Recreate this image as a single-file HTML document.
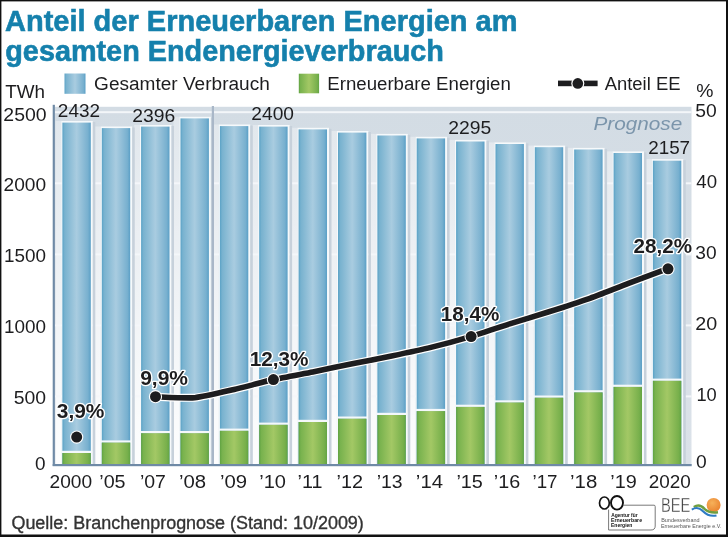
<!DOCTYPE html>
<html><head><meta charset="utf-8"><style>
html,body{margin:0;padding:0;background:#fff;}
svg{display:block;will-change:transform;}
text{font-family:"Liberation Sans", sans-serif;}
</style></head><body>
<svg width="728" height="537" viewBox="0 0 728 537">
<defs>
<linearGradient id="bg" x1="0" y1="0" x2="0" y2="1">
<stop offset="0" stop-color="#d3dce4"/>
<stop offset="1" stop-color="#dbe2e9"/>
</linearGradient>
<linearGradient id="glow" gradientUnits="userSpaceOnUse" x1="0" y1="107" x2="0" y2="465">
<stop offset="0" stop-color="#fff" stop-opacity="0.3"/>
<stop offset="0.5" stop-color="#fff" stop-opacity="0.6"/>
<stop offset="1" stop-color="#fff" stop-opacity="0.95"/>
</linearGradient>
<linearGradient id="gb" x1="0" y1="0" x2="1" y2="0">
<stop offset="0" stop-color="#5aa2c6"/>
<stop offset="0.08" stop-color="#78b2cf"/>
<stop offset="0.5" stop-color="#a9cce0"/>
<stop offset="0.9" stop-color="#78b0cf"/>
<stop offset="1" stop-color="#5a9fc6"/>
</linearGradient>
<linearGradient id="gg" x1="0" y1="0" x2="1" y2="0">
<stop offset="0" stop-color="#5fa242"/>
<stop offset="0.08" stop-color="#78b24e"/>
<stop offset="0.5" stop-color="#a3c865"/>
<stop offset="0.9" stop-color="#78b04c"/>
<stop offset="1" stop-color="#62a444"/>
</linearGradient>
<radialGradient id="sun" cx="0.4" cy="0.35" r="0.7">
<stop offset="0" stop-color="#f6b15a"/>
<stop offset="1" stop-color="#e9822e"/>
</radialGradient>
</defs>
<rect x="0" y="0" width="728" height="537" fill="#fff"/>

<rect x="55" y="106.8" width="636.5" height="358.2" fill="url(#bg)"/>
<rect x="55.5" y="121.0" width="5.8" height="344.0" fill="url(#glow)"/>
<rect x="94.9" y="126.5" width="5.8" height="338.5" fill="url(#glow)"/>
<rect x="134.2" y="125.0" width="5.8" height="340.0" fill="url(#glow)"/>
<rect x="173.6" y="116.8" width="5.8" height="348.2" fill="url(#glow)"/>
<rect x="213.0" y="124.5" width="5.8" height="340.5" fill="url(#glow)"/>
<rect x="252.3" y="125.0" width="5.8" height="340.0" fill="url(#glow)"/>
<rect x="291.7" y="127.8" width="5.8" height="337.2" fill="url(#glow)"/>
<rect x="331.1" y="131.0" width="5.8" height="334.0" fill="url(#glow)"/>
<rect x="370.5" y="133.9" width="5.8" height="331.1" fill="url(#glow)"/>
<rect x="409.8" y="136.8" width="5.8" height="328.2" fill="url(#glow)"/>
<rect x="449.2" y="139.9" width="5.8" height="325.1" fill="url(#glow)"/>
<rect x="488.6" y="142.4" width="5.8" height="322.6" fill="url(#glow)"/>
<rect x="527.9" y="145.6" width="5.8" height="319.4" fill="url(#glow)"/>
<rect x="567.3" y="147.9" width="5.8" height="317.1" fill="url(#glow)"/>
<rect x="606.7" y="151.4" width="5.8" height="313.6" fill="url(#glow)"/>
<rect x="646.0" y="159.1" width="5.8" height="305.9" fill="url(#glow)"/>
<rect x="55" y="395.4" width="636.5" height="2" fill="#f4f7fa" opacity="0.95"/>
<rect x="55" y="324.4" width="636.5" height="2" fill="#f4f7fa" opacity="0.95"/>
<rect x="55" y="253.4" width="636.5" height="2" fill="#f4f7fa" opacity="0.95"/>
<rect x="55" y="182.3" width="636.5" height="2" fill="#f4f7fa" opacity="0.95"/>
<rect x="55" y="111.2" width="636.5" height="2" fill="#f4f7fa" opacity="0.95"/>
<rect x="61.3" y="121.0" width="31.5" height="344.0" fill="#f6f9fb"/>
<rect x="92.8" y="122.0" width="2.5" height="343.0" fill="#c7d1db"/>
<rect x="62.4" y="122.6" width="28.4" height="342.4" fill="url(#gb)"/>
<rect x="61.1" y="450.8" width="31.0" height="2.2" fill="#f4f8fb"/>
<rect x="62.4" y="453.0" width="28.4" height="12.0" fill="url(#gg)"/>
<rect x="100.7" y="126.5" width="31.5" height="338.5" fill="#f6f9fb"/>
<rect x="132.2" y="127.5" width="2.5" height="337.5" fill="#c7d1db"/>
<rect x="101.8" y="128.1" width="28.4" height="336.9" fill="url(#gb)"/>
<rect x="100.5" y="440.4" width="31.0" height="2.2" fill="#f4f8fb"/>
<rect x="101.8" y="442.6" width="28.4" height="22.4" fill="url(#gg)"/>
<rect x="140.0" y="125.0" width="31.5" height="340.0" fill="#f6f9fb"/>
<rect x="171.5" y="126.0" width="2.5" height="339.0" fill="#c7d1db"/>
<rect x="141.1" y="126.6" width="28.4" height="338.4" fill="url(#gb)"/>
<rect x="139.8" y="431.0" width="31.0" height="2.2" fill="#f4f8fb"/>
<rect x="141.1" y="433.2" width="28.4" height="31.8" fill="url(#gg)"/>
<rect x="179.4" y="116.8" width="31.5" height="348.2" fill="#f6f9fb"/>
<rect x="210.9" y="117.8" width="2.5" height="347.2" fill="#c7d1db"/>
<rect x="180.5" y="118.4" width="28.4" height="346.6" fill="url(#gb)"/>
<rect x="179.2" y="431.0" width="31.0" height="2.2" fill="#f4f8fb"/>
<rect x="180.5" y="433.2" width="28.4" height="31.8" fill="url(#gg)"/>
<rect x="218.8" y="124.5" width="31.5" height="340.5" fill="#f6f9fb"/>
<rect x="250.3" y="125.5" width="2.5" height="339.5" fill="#c7d1db"/>
<rect x="219.9" y="126.1" width="28.4" height="338.9" fill="url(#gb)"/>
<rect x="218.6" y="428.6" width="31.0" height="2.2" fill="#f4f8fb"/>
<rect x="219.9" y="430.8" width="28.4" height="34.2" fill="url(#gg)"/>
<rect x="258.1" y="125.0" width="31.5" height="340.0" fill="#f6f9fb"/>
<rect x="289.6" y="126.0" width="2.5" height="339.0" fill="#c7d1db"/>
<rect x="259.2" y="126.6" width="28.4" height="338.4" fill="url(#gb)"/>
<rect x="257.9" y="422.6" width="31.0" height="2.2" fill="#f4f8fb"/>
<rect x="259.2" y="424.8" width="28.4" height="40.2" fill="url(#gg)"/>
<rect x="297.5" y="127.8" width="31.5" height="337.2" fill="#f6f9fb"/>
<rect x="329.0" y="128.8" width="2.5" height="336.2" fill="#c7d1db"/>
<rect x="298.6" y="129.4" width="28.4" height="335.6" fill="url(#gb)"/>
<rect x="297.3" y="419.8" width="31.0" height="2.2" fill="#f4f8fb"/>
<rect x="298.6" y="422.0" width="28.4" height="43.0" fill="url(#gg)"/>
<rect x="336.9" y="131.0" width="31.5" height="334.0" fill="#f6f9fb"/>
<rect x="368.4" y="132.0" width="2.5" height="333.0" fill="#c7d1db"/>
<rect x="338.0" y="132.6" width="28.4" height="332.4" fill="url(#gb)"/>
<rect x="336.7" y="416.5" width="31.0" height="2.2" fill="#f4f8fb"/>
<rect x="338.0" y="418.7" width="28.4" height="46.3" fill="url(#gg)"/>
<rect x="376.3" y="133.9" width="31.5" height="331.1" fill="#f6f9fb"/>
<rect x="407.8" y="134.9" width="2.5" height="330.1" fill="#c7d1db"/>
<rect x="377.4" y="135.5" width="28.4" height="329.5" fill="url(#gb)"/>
<rect x="376.1" y="412.8" width="31.0" height="2.2" fill="#f4f8fb"/>
<rect x="377.4" y="415.0" width="28.4" height="50.0" fill="url(#gg)"/>
<rect x="415.6" y="136.8" width="31.5" height="328.2" fill="#f6f9fb"/>
<rect x="447.1" y="137.8" width="2.5" height="327.2" fill="#c7d1db"/>
<rect x="416.7" y="138.4" width="28.4" height="326.6" fill="url(#gb)"/>
<rect x="415.4" y="408.9" width="31.0" height="2.2" fill="#f4f8fb"/>
<rect x="416.7" y="411.1" width="28.4" height="53.9" fill="url(#gg)"/>
<rect x="455.0" y="139.9" width="31.5" height="325.1" fill="#f6f9fb"/>
<rect x="486.5" y="140.9" width="2.5" height="324.1" fill="#c7d1db"/>
<rect x="456.1" y="141.5" width="28.4" height="323.5" fill="url(#gb)"/>
<rect x="454.8" y="404.7" width="31.0" height="2.2" fill="#f4f8fb"/>
<rect x="456.1" y="406.9" width="28.4" height="58.1" fill="url(#gg)"/>
<rect x="494.4" y="142.4" width="31.5" height="322.6" fill="#f6f9fb"/>
<rect x="525.9" y="143.4" width="2.5" height="321.6" fill="#c7d1db"/>
<rect x="495.5" y="144.0" width="28.4" height="321.0" fill="url(#gb)"/>
<rect x="494.2" y="400.3" width="31.0" height="2.2" fill="#f4f8fb"/>
<rect x="495.5" y="402.5" width="28.4" height="62.5" fill="url(#gg)"/>
<rect x="533.7" y="145.6" width="31.5" height="319.4" fill="#f6f9fb"/>
<rect x="565.2" y="146.6" width="2.5" height="318.4" fill="#c7d1db"/>
<rect x="534.8" y="147.2" width="28.4" height="317.8" fill="url(#gb)"/>
<rect x="533.5" y="395.5" width="31.0" height="2.2" fill="#f4f8fb"/>
<rect x="534.8" y="397.7" width="28.4" height="67.3" fill="url(#gg)"/>
<rect x="573.1" y="147.9" width="31.5" height="317.1" fill="#f6f9fb"/>
<rect x="604.6" y="148.9" width="2.5" height="316.1" fill="#c7d1db"/>
<rect x="574.2" y="149.5" width="28.4" height="315.5" fill="url(#gb)"/>
<rect x="572.9" y="390.2" width="31.0" height="2.2" fill="#f4f8fb"/>
<rect x="574.2" y="392.4" width="28.4" height="72.6" fill="url(#gg)"/>
<rect x="612.5" y="151.4" width="31.5" height="313.6" fill="#f6f9fb"/>
<rect x="644.0" y="152.4" width="2.5" height="312.6" fill="#c7d1db"/>
<rect x="613.6" y="153.0" width="28.4" height="312.0" fill="url(#gb)"/>
<rect x="612.3" y="384.7" width="31.0" height="2.2" fill="#f4f8fb"/>
<rect x="613.6" y="386.9" width="28.4" height="78.1" fill="url(#gg)"/>
<rect x="651.8" y="159.1" width="31.5" height="305.9" fill="#f6f9fb"/>
<rect x="683.3" y="160.1" width="2.5" height="304.9" fill="#c7d1db"/>
<rect x="652.9" y="160.7" width="28.4" height="304.3" fill="url(#gb)"/>
<rect x="651.6" y="378.6" width="31.0" height="2.2" fill="#f4f8fb"/>
<rect x="652.9" y="380.8" width="28.4" height="84.2" fill="url(#gg)"/>
<rect x="211.8" y="106.0" width="2.2" height="359" fill="#a9b7c8"/>
<rect x="52.7" y="104.8" width="2.2" height="361.2" fill="#6f8aa6"/>
<rect x="52.7" y="464" width="639" height="2.2" fill="#6f8aa6"/>
<path d="M155.30,396.70 C159.24,396.80 186.82,398.42 194.70,397.70 C202.58,396.98 226.23,391.31 234.10,389.50 C241.97,387.69 265.53,381.36 273.40,379.60 C281.27,377.84 304.92,373.48 312.80,371.90 C320.68,370.32 344.32,365.39 352.20,363.80 C360.08,362.21 383.73,357.64 391.60,356.00 C399.47,354.36 423.00,349.34 430.90,347.40 C438.80,345.46 462.72,338.95 470.60,336.60 C478.48,334.25 501.86,326.38 509.70,323.90 C517.54,321.42 541.13,314.31 549.00,311.80 C556.87,309.29 580.52,301.61 588.40,298.80 C596.28,295.99 619.86,286.71 627.80,283.70 C635.74,280.69 663.80,270.20 667.80,268.70" fill="none" stroke="#fff" stroke-width="8" stroke-linejoin="round"/>
<path d="M155.30,396.70 C159.24,396.80 186.82,398.42 194.70,397.70 C202.58,396.98 226.23,391.31 234.10,389.50 C241.97,387.69 265.53,381.36 273.40,379.60 C281.27,377.84 304.92,373.48 312.80,371.90 C320.68,370.32 344.32,365.39 352.20,363.80 C360.08,362.21 383.73,357.64 391.60,356.00 C399.47,354.36 423.00,349.34 430.90,347.40 C438.80,345.46 462.72,338.95 470.60,336.60 C478.48,334.25 501.86,326.38 509.70,323.90 C517.54,321.42 541.13,314.31 549.00,311.80 C556.87,309.29 580.52,301.61 588.40,298.80 C596.28,295.99 619.86,286.71 627.80,283.70 C635.74,280.69 663.80,270.20 667.80,268.70" fill="none" stroke="#1d1d1f" stroke-width="5.6" stroke-linejoin="round"/>
<circle cx="76.7" cy="437.1" r="6.6" fill="#fff"/><circle cx="76.7" cy="437.1" r="5.5" fill="#1d1d1f"/>
<circle cx="155.5" cy="396.7" r="6.6" fill="#fff"/><circle cx="155.5" cy="396.7" r="5.5" fill="#1d1d1f"/>
<circle cx="273.4" cy="379.6" r="6.6" fill="#fff"/><circle cx="273.4" cy="379.6" r="5.5" fill="#1d1d1f"/>
<circle cx="471.1" cy="336.6" r="6.6" fill="#fff"/><circle cx="471.1" cy="336.6" r="5.5" fill="#1d1d1f"/>
<circle cx="668" cy="268.8" r="6.6" fill="#fff"/><circle cx="668" cy="268.8" r="5.5" fill="#1d1d1f"/>
<text x="4.98" y="30.90" font-size="29.70" textLength="512.56" lengthAdjust="spacingAndGlyphs" font-weight="bold" stroke="#1580ac" stroke-width="0.6" fill="#1580ac">Anteil der Erneuerbaren Energien am</text>
<text x="5.27" y="60.50" font-size="29.70" textLength="438.62" lengthAdjust="spacingAndGlyphs" font-weight="bold" stroke="#1580ac" stroke-width="0.6" fill="#1580ac">gesamten Endenergieverbrauch</text>
<text x="5.28" y="97.50" font-size="18.80" textLength="39.82" lengthAdjust="spacingAndGlyphs" fill="#1d1d1f">TWh</text>
<text x="3.33" y="120.50" font-size="18.80" textLength="43.23" lengthAdjust="spacingAndGlyphs" fill="#1d1d1f">2500</text>
<text x="3.53" y="191.20" font-size="18.80" textLength="42.54" lengthAdjust="spacingAndGlyphs" fill="#1d1d1f">2000</text>
<text x="4.10" y="262.00" font-size="18.80" textLength="42.00" lengthAdjust="spacingAndGlyphs" fill="#1d1d1f">1500</text>
<text x="4.10" y="332.50" font-size="18.80" textLength="42.00" lengthAdjust="spacingAndGlyphs" fill="#1d1d1f">1000</text>
<text x="13.78" y="404.20" font-size="18.80" textLength="32.35" lengthAdjust="spacingAndGlyphs" fill="#1d1d1f">500</text>
<text x="35.04" y="469.80" font-size="18.80" textLength="10.53" lengthAdjust="spacingAndGlyphs" fill="#1d1d1f">0</text>
<text x="696.17" y="97.30" font-size="18.80" textLength="17.21" lengthAdjust="spacingAndGlyphs" fill="#1d1d1f">%</text>
<text x="695.29" y="117.40" font-size="18.80" textLength="21.47" lengthAdjust="spacingAndGlyphs" fill="#1d1d1f">50</text>
<text x="696.32" y="187.90" font-size="18.80" textLength="20.70" lengthAdjust="spacingAndGlyphs" fill="#1d1d1f">40</text>
<text x="695.34" y="258.60" font-size="18.80" textLength="21.27" lengthAdjust="spacingAndGlyphs" fill="#1d1d1f">30</text>
<text x="695.20" y="330.00" font-size="18.80" textLength="21.91" lengthAdjust="spacingAndGlyphs" fill="#1d1d1f">20</text>
<text x="696.38" y="400.90" font-size="18.80" textLength="20.31" lengthAdjust="spacingAndGlyphs" fill="#1d1d1f">10</text>
<text x="696.14" y="467.90" font-size="18.80" textLength="10.71" lengthAdjust="spacingAndGlyphs" fill="#1d1d1f">0</text>
<text x="94.08" y="90.20" font-size="18.80" textLength="175.69" lengthAdjust="spacingAndGlyphs" fill="#1d1d1f">Gesamter Verbrauch</text>
<text x="327.22" y="90.10" font-size="18.80" textLength="183.60" lengthAdjust="spacingAndGlyphs" fill="#1d1d1f">Erneuerbare Energien</text>
<text x="604.65" y="90.00" font-size="18.80" textLength="75.84" lengthAdjust="spacingAndGlyphs" fill="#1d1d1f">Anteil EE</text>
<text x="57.87" y="117.00" font-size="18.80" textLength="42.21" lengthAdjust="spacingAndGlyphs" fill="#1d1d1f">2432</text>
<text x="132.34" y="121.60" font-size="18.80" textLength="43.00" lengthAdjust="spacingAndGlyphs" fill="#1d1d1f">2396</text>
<text x="251.37" y="120.40" font-size="18.80" textLength="42.58" lengthAdjust="spacingAndGlyphs" fill="#1d1d1f">2400</text>
<text x="448.35" y="134.00" font-size="18.80" textLength="42.98" lengthAdjust="spacingAndGlyphs" fill="#1d1d1f">2295</text>
<text x="648.18" y="154.10" font-size="18.80" textLength="41.93" lengthAdjust="spacingAndGlyphs" fill="#1d1d1f">2157</text>
<text x="593.54" y="129.60" font-size="18.00" textLength="88.72" lengthAdjust="spacingAndGlyphs" font-style="italic" fill="#7b95ab">Prognose</text>
<text x="56.79" y="418.13" font-size="19.80" textLength="47.64" lengthAdjust="spacingAndGlyphs" font-weight="bold" fill="none" stroke="#fff" stroke-width="2.6" stroke-linejoin="round">3,9%</text>
<text x="56.79" y="418.13" font-size="19.80" textLength="47.64" lengthAdjust="spacingAndGlyphs" font-weight="bold" fill="#1d1d1f">3,9%</text>
<text x="140.15" y="385.33" font-size="19.80" textLength="47.87" lengthAdjust="spacingAndGlyphs" font-weight="bold" fill="none" stroke="#fff" stroke-width="2.6" stroke-linejoin="round">9,9%</text>
<text x="140.15" y="385.33" font-size="19.80" textLength="47.87" lengthAdjust="spacingAndGlyphs" font-weight="bold" fill="#1d1d1f">9,9%</text>
<text x="249.69" y="365.68" font-size="19.80" textLength="58.86" lengthAdjust="spacingAndGlyphs" font-weight="bold" fill="none" stroke="#fff" stroke-width="2.6" stroke-linejoin="round">12,3%</text>
<text x="249.69" y="365.68" font-size="19.80" textLength="58.86" lengthAdjust="spacingAndGlyphs" font-weight="bold" fill="#1d1d1f">12,3%</text>
<text x="440.75" y="320.83" font-size="19.80" textLength="58.52" lengthAdjust="spacingAndGlyphs" font-weight="bold" fill="none" stroke="#fff" stroke-width="2.6" stroke-linejoin="round">18,4%</text>
<text x="440.75" y="320.83" font-size="19.80" textLength="58.52" lengthAdjust="spacingAndGlyphs" font-weight="bold" fill="#1d1d1f">18,4%</text>
<text x="633.63" y="252.83" font-size="19.80" textLength="58.47" lengthAdjust="spacingAndGlyphs" font-weight="bold" fill="none" stroke="#fff" stroke-width="2.6" stroke-linejoin="round">28,2%</text>
<text x="633.63" y="252.83" font-size="19.80" textLength="58.47" lengthAdjust="spacingAndGlyphs" font-weight="bold" fill="#1d1d1f">28,2%</text>
<text x="49.50" y="487.80" font-size="18.80" textLength="42.52" lengthAdjust="spacingAndGlyphs" fill="#1d1d1f">2000</text>
<text x="99.26" y="487.80" font-size="18.80" textLength="26.36" lengthAdjust="spacingAndGlyphs" fill="#1d1d1f">’05</text>
<text x="139.93" y="487.80" font-size="18.80" textLength="26.00" lengthAdjust="spacingAndGlyphs" fill="#1d1d1f">’07</text>
<text x="178.90" y="487.80" font-size="18.80" textLength="27.13" lengthAdjust="spacingAndGlyphs" fill="#1d1d1f">’08</text>
<text x="220.04" y="487.80" font-size="18.80" textLength="27.12" lengthAdjust="spacingAndGlyphs" fill="#1d1d1f">’09</text>
<text x="259.22" y="487.80" font-size="18.80" textLength="26.71" lengthAdjust="spacingAndGlyphs" fill="#1d1d1f">’10</text>
<text x="297.60" y="487.80" font-size="18.80" textLength="24.87" lengthAdjust="spacingAndGlyphs" fill="#1d1d1f">’11</text>
<text x="336.61" y="487.80" font-size="18.80" textLength="26.39" lengthAdjust="spacingAndGlyphs" fill="#1d1d1f">’12</text>
<text x="376.67" y="487.80" font-size="18.80" textLength="25.90" lengthAdjust="spacingAndGlyphs" fill="#1d1d1f">’13</text>
<text x="415.88" y="487.80" font-size="18.80" textLength="27.14" lengthAdjust="spacingAndGlyphs" fill="#1d1d1f">’14</text>
<text x="456.41" y="487.80" font-size="18.80" textLength="26.46" lengthAdjust="spacingAndGlyphs" fill="#1d1d1f">’15</text>
<text x="493.84" y="487.80" font-size="18.80" textLength="26.36" lengthAdjust="spacingAndGlyphs" fill="#1d1d1f">’16</text>
<text x="532.49" y="487.80" font-size="18.80" textLength="25.08" lengthAdjust="spacingAndGlyphs" fill="#1d1d1f">’17</text>
<text x="570.02" y="487.80" font-size="18.80" textLength="27.21" lengthAdjust="spacingAndGlyphs" fill="#1d1d1f">’18</text>
<text x="610.35" y="487.80" font-size="18.80" textLength="26.48" lengthAdjust="spacingAndGlyphs" fill="#1d1d1f">’19</text>
<text x="648.77" y="487.80" font-size="18.80" textLength="42.06" lengthAdjust="spacingAndGlyphs" fill="#1d1d1f">2020</text>
<text x="11.41" y="528.60" font-size="18.30" textLength="352.44" lengthAdjust="spacingAndGlyphs" stroke="#333333" stroke-width="0.35" fill="#333333">Quelle: Branchenprognose (Stand: 10/2009)</text>
<text x="660.90" y="512.30" font-size="19.50" textLength="29.45" lengthAdjust="spacingAndGlyphs" stroke="#fff" stroke-width="0.4" fill="#3a3a3a">BEE</text>
<text x="661.17" y="521.90" font-size="5.80" textLength="38.40" lengthAdjust="spacingAndGlyphs" fill="#555555">Bundesverband</text>
<text x="660.90" y="527.83" font-size="5.80" textLength="60.37" lengthAdjust="spacingAndGlyphs" fill="#555555">Erneuerbare Energie e.V.</text>
<text x="611.14" y="516.50" font-size="5.00" textLength="26.47" lengthAdjust="spacingAndGlyphs" font-weight="bold" fill="#111111">Agentur für</text>
<text x="611.00" y="522.00" font-size="5.00" textLength="31.07" lengthAdjust="spacingAndGlyphs" font-weight="bold" fill="#111111">Erneuerbare</text>
<text x="611.00" y="527.14" font-size="5.00" textLength="21.37" lengthAdjust="spacingAndGlyphs" font-weight="bold" fill="#111111">Energien</text>
<rect x="64.5" y="73.5" width="21" height="20.3" fill="url(#gb)"/>
<rect x="298.8" y="73.7" width="20.3" height="19.6" fill="url(#gg)"/>
<rect x="558" y="80.6" width="39.6" height="5.6" fill="#1d1d1f"/>
<circle cx="577.8" cy="83.4" r="6.5" fill="#fff"/><circle cx="577.8" cy="83.4" r="5.3" fill="#1d1d1f"/>
<ellipse cx="604.4" cy="503" rx="4.9" ry="6.0" fill="none" stroke="#111" stroke-width="1.7"/>
<ellipse cx="617" cy="502.8" rx="6.0" ry="6.8" fill="none" stroke="#111" stroke-width="1.9"/>
<path d="M608.6,509.6 V530 H651 Q655.2,530 655.2,526 V506.5 Q655.2,505.2 654,505.2 H623.2" fill="none" stroke="#6a6a6a" stroke-width="0.9"/>
<circle cx="713.6" cy="505" r="7.0" fill="url(#sun)"/>
<path d="M693.8,507 C697.5,504.6 701,505 704.5,508.8 C707.5,511.8 711,513.3 718,512.3" fill="none" stroke="#6e9e40" stroke-width="2.5"/>
<path d="M691.8,509.6 C695.5,507.2 699.5,507.6 703,511.2 C706.5,514.8 711,516.6 716.5,515.4" fill="none" stroke="#2d7bc3" stroke-width="2.0"/>
<rect x="0" y="0" width="728" height="1.4" fill="#111"/>
<rect x="0" y="0" width="1.4" height="537" fill="#111"/>
<rect x="726" y="0" width="2" height="537" fill="#111"/>
<rect x="0" y="534.5" width="728" height="2.5" fill="#111"/>
</svg></body></html>
